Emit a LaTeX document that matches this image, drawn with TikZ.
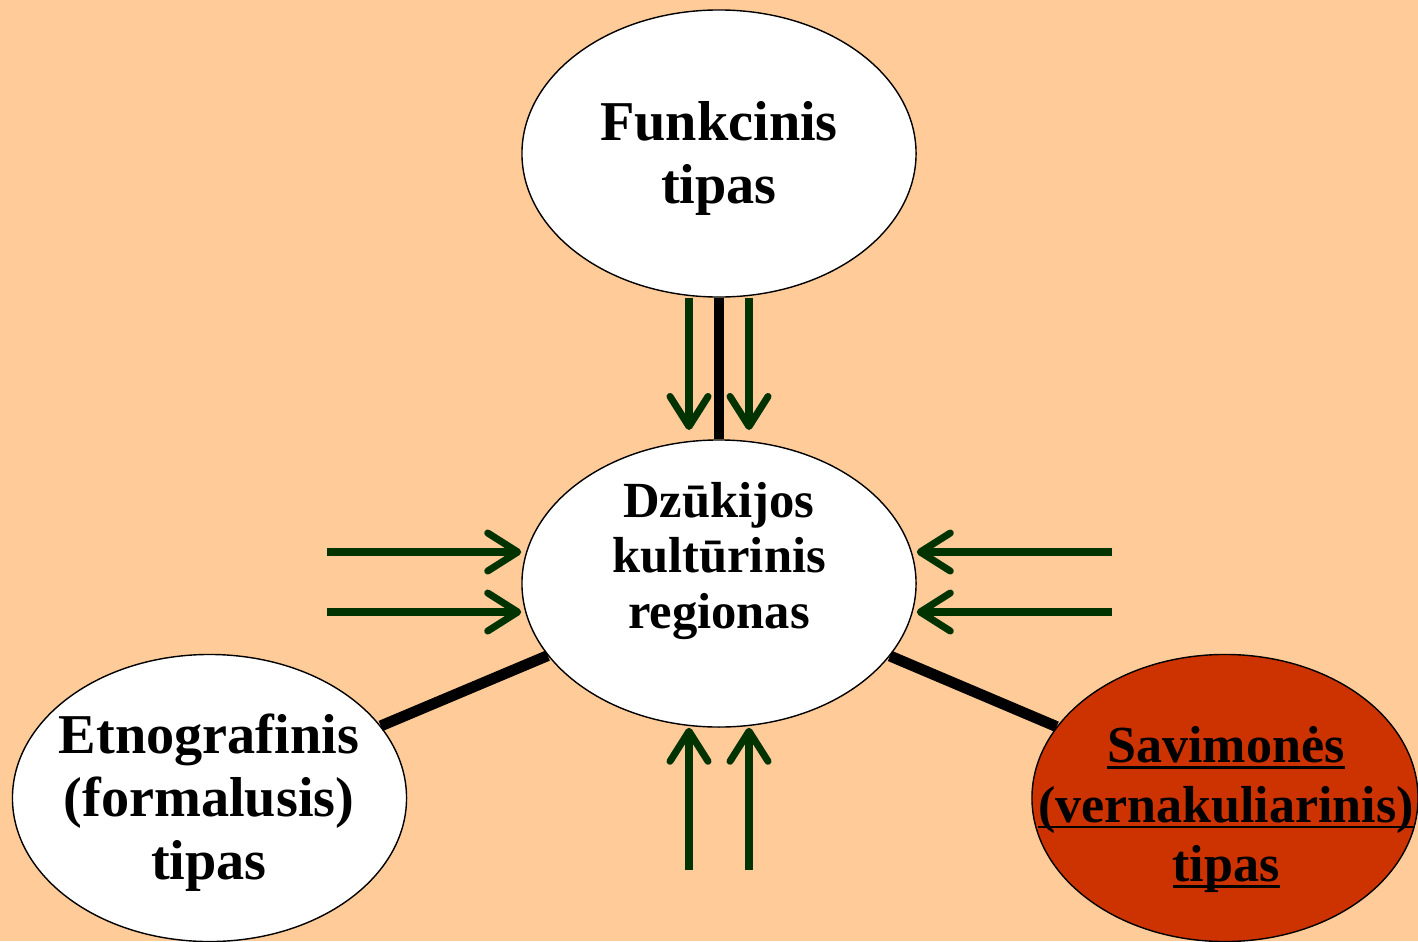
\documentclass[tikz,border=0pt]{standalone}
\usepackage{fontspec}
\setmainfont{Liberation Serif}
\usetikzlibrary{shapes.geometric,arrows.meta}

\definecolor{peach}{RGB}{255,204,153}
\definecolor{rust}{RGB}{204,51,0}
\definecolor{pine}{RGB}{0,51,0}

% underline sitting just below the baseline
\newsavebox{\undlbox}
\newcommand{\undl}[1]{\sbox{\undlbox}{#1}\rlap{\rule[-4.5pt]{\wd\undlbox}{2pt}}\usebox{\undlbox}}

\tikzset{
	oval/.style={ellipse, draw=black, line width=1pt, fill=white,
		minimum width=9.85cm, minimum height=7.175cm, inner sep=0pt},
	lbl/.style={align=center, inner sep=0pt,
		font=\bfseries\fontsize{40}{45}\selectfont},
	bond/.style={line width=7.8pt, black},
	flow/.style={line width=5pt, pine,
		-{Straight Barb[length=7.5mm, width=9.5mm, round]}},
}

\begin{document}
\begin{tikzpicture}[x=0.025cm, y=-0.025cm]
			\useasboundingbox (0,0) rectangle (1418,941);
			\fill [peach] (0,0) rectangle (1418,941);

			% the four types
			\node [oval] (funk) at (719,153.5) {};
			\node [oval] (dzuk) at (719,583.5) {};
			\node [oval] (etno) at (209.5,798) {};
			\node [oval, fill=rust, minimum width=9.65cm] (savi) at (1225,798) {};

			\draw [bond] (funk) -- (dzuk);
			\draw [bond] (dzuk) -- (etno);
			\draw [bond] (dzuk) -- (savi);

			\node [lbl] (funkTxt) at (719,158.5) {Funkcinis\\tipas};
			\node [lbl, font=\bfseries\fontsize{36}{39.7}\selectfont] (dzukTxt) at (719,561) {Dzūkijos\\kultūrinis\\regionas};
			\node [lbl] (etnoTxt) at (209,802.5) {Etnografinis\\(formalusis)\\tipas};
			\node [lbl, font=\bfseries\fontsize{37}{42.5}\selectfont] (saviTxt) at (1226,809.5) {\undl{Savimonės}\\\undl{(vernakuliarinis)}\\\undl{tipas}};

			% influences
			\coordinate (dnA) at (689,430);
			\coordinate (dnB) at (749,430);
			\coordinate (upA) at (689,870);
			\coordinate (upB) at (749,870);
			\coordinate (inW1) at (327,552);
			\coordinate (inW2) at (327,612);
			\coordinate (inE1) at (1112,552);
			\coordinate (inE2) at (1112,612);

			\draw [flow] (funk.south -| dnA) -- (dnA);
			\draw [flow] (funk.south -| dnB) -- (dnB);
			\draw [flow] (upA) -- (upA |- dzuk.south);
			\draw [flow] (upB) -- (upB |- dzuk.south);
			\draw [flow] (inW1) -- (inW1 -| dzuk.west);
			\draw [flow] (inW2) -- (inW2 -| dzuk.west);
			\draw [flow] (inE1) -- (inE1 -| dzuk.east);
			\draw [flow] (inE2) -- (inE2 -| dzuk.east);
		\end{tikzpicture}
\end{document}
